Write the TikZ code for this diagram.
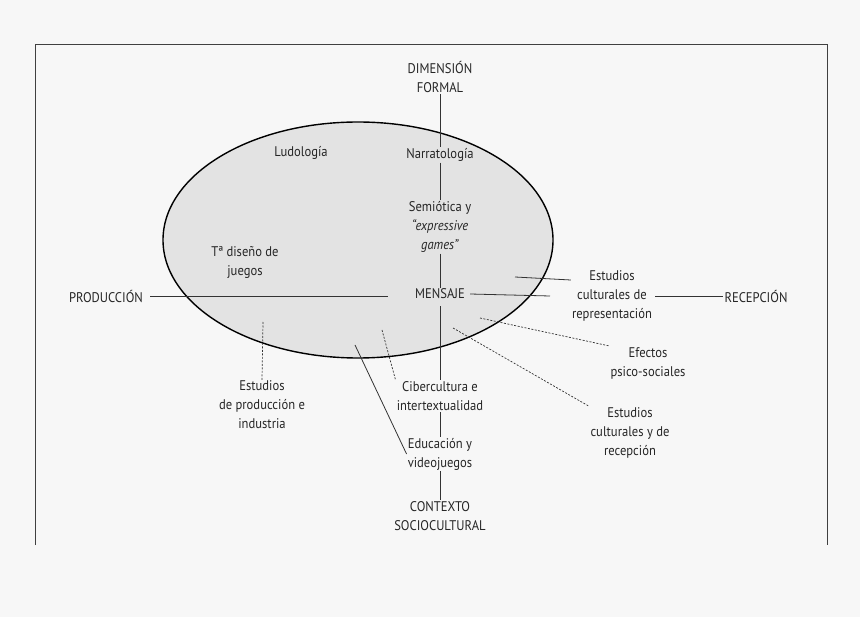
\documentclass[tikz,border=0pt]{standalone}
\usepackage{fontspec}
\setmainfont{PT Sans}
\begin{document}
\begin{tikzpicture}[x=1pt,y=-1pt,
  t/.style={font=\fontsize{14}{19}\selectfont\addfontfeatures{FakeStretch=0.9},align=center,inner sep=1pt,text=black!85},
  ln/.style={line width=0.8pt,black!80},
  dl/.style={line width=0.7pt,black!80,dash pattern=on 2pt off 1.5pt}]
\fill[black!3] (0,0) rectangle (860,617);
\useasboundingbox (0,0) rectangle (860,617);
\draw[line width=1pt,black!75] (35,545) -- (35,45) -- (827,45) -- (827,545);
\draw[line width=1.4pt,fill=black!11] (358,240) ellipse [x radius=195, y radius=118];
\node[t] (dim) at (440,77) {DIMENSIÓN\\FORMAL};
\node[t] (nar) at (440,155) {Narratología};
\node[t] (sem) at (440,227) {Semiótica y\\\textit{“expressive}\\\textit{games”}};
\node[t] (men) at (440,294) {MENSAJE};
\node[t] (cib) at (440,396) {Cibercultura e\\intertextualidad};
\node[t] (edu) at (440,454) {Educación y\\videojuegos};
\node[t] (ctx) at (440,516) {CONTEXTO\\SOCIOCULTURAL};
\node[t] (pro) at (106,296) {PRODUCCIÓN};
\node[t] (rec) at (756,296) {RECEPCIÓN};
\node[t] (ecr) at (612,296) {Estudios\\culturales de\\representación};
\node[t] (lud) at (301,153) {Ludología};
\node[t] (dis) at (245,262) {Tª diseño de\\juegos};
\node[t] (epi) at (262,405) {Estudios\\de producción e\\industria};
\node[t] (efe) at (648,363) {Efectos\\psico-sociales};
\node[t] (ecy) at (630,433) {Estudios\\culturales y de\\recepción};
\coordinate (a1) at (515,277); \coordinate (d1) at (263,322);
\coordinate (d2) at (382,330); \coordinate (s1) at (355,345);
\coordinate (d3) at (480,318); \coordinate (d4) at (453,328);
\draw[ln] (dim.south) -- (nar.north);
\draw[ln] (nar.south) -- (sem.north);
\draw[ln] (sem.south) -- (men.north);
\draw[ln] (men.south) ++(0,6) -- (cib.north);
\draw[ln] (cib.south) -- (edu.north);
\draw[ln] (edu.south) -- (ctx.north);
\draw[ln] (pro.east) ++(6,0) -- (388,296);
\draw[ln] (men.east) ++(4,0) -- (550,296);
\draw[ln] (a1) -- (ecr.north west |- 0,280) -- (570,280);
\draw[ln] (ecr.east) ++(2,0) -- (rec.west);
\draw[dl] (d1) -- (epi.north);
\draw[dl] (d2) -- (cib.north west);
\draw[ln] (s1) -- (edu.west);
\draw[dl] (d3) -- (efe.north west);
\draw[dl] (d4) -- (ecy.north west);
\end{tikzpicture}
\end{document}
